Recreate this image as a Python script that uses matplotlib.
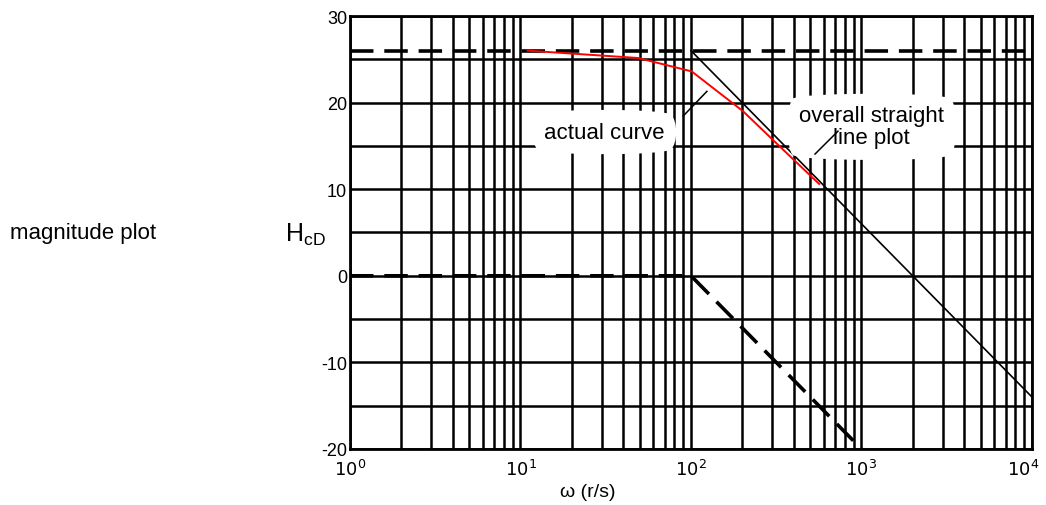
import matplotlib.pyplot as plt
from matplotlib.ticker import FixedLocator, LogLocator, NullFormatter
from matplotlib.transforms import ScaledTranslation

plt.rcParams['font.family'] = ['Liberation Sans', 'DejaVu Sans']
plt.rcParams['axes.unicode_minus'] = False

# asymptotes (dB)
w_flat = [1, 1e4]
h_flat = [26, 26]
w_low = [1, 100, 1000]
h_low = [0, 0, -20]
w_overall = [100, 1e4]
h_overall = [26, -14]

# actual curve (red)
w_actual = [11, 49, 101, 202, 333, 565]
h_actual = [26, 25.15, 23.6, 19.0, 14.9, 10.6]

# pointer lines for the notes
ptr_actual_w = [90, 124]
ptr_actual_h = [18.45, 21.3]
ptr_overall_w = [534, 728]
ptr_overall_h = [14.06, 16.7]

y_ticks = [-20, -10, 0, 10, 20, 30]
x_ticks = [1, 10, 100, 1000, 10000]
x_labels = ['$10^0$', '$10^1$', '$10^2$', '$10^3$', '$10^4$']

fig = plt.figure(figsize=(10.46, 5.06), dpi=100)
ax = fig.add_axes([0.3346, 0.1107, 0.652, 0.8557])

ax.set_xscale('log')
ax.set_xlim(1, 1e4)
ax.set_ylim(-20, 30)

ax.xaxis.set_major_locator(FixedLocator(x_ticks))
ax.xaxis.set_minor_locator(LogLocator(base=10, subs=range(2, 10)))
ax.xaxis.set_minor_formatter(NullFormatter())
ax.set_xticklabels(x_labels)
ax.set_yticks(y_ticks)
ax.yaxis.set_minor_locator(FixedLocator([-15, -5, 5, 15, 25]))

ax.grid(True, which='both', color='black', lw=1.8)
ax.set_axisbelow(True)
for s in ax.spines.values():
    s.set_linewidth(2)
ax.tick_params(which='both', length=0, labelsize=13)
ax.tick_params(axis='x', pad=7)
ax.tick_params(axis='y', pad=2)

# nudge the last x label so it stays inside the picture
last = ax.get_xticklabels()[-1]
last.set_transform(last.get_transform() + ScaledTranslation(-6 / 72, 0, fig.dpi_scale_trans))

ax.plot(w_flat, h_flat, color='black', lw=2.6, ls=(0, (6.5, 3)), zorder=4)
ax.plot(w_low, h_low, color='black', lw=2.6, ls=(0, (6.5, 3)), zorder=4)
ax.plot(w_overall, h_overall, color='black', lw=1.2, zorder=4)
ax.plot(w_actual, h_actual, color='red', lw=1.4, zorder=5)

box = dict(boxstyle='round4,pad=0.6', fc='white', ec='none')
ax.text(31, 16.6, 'actual curve', ha='center', va='center', fontsize=16,
        bbox=box, zorder=6)
ax.text(1150, 17.2, 'overall straight\nline plot', ha='center', va='center',
        fontsize=16, bbox=box, zorder=6, linespacing=1.05)
ax.plot(ptr_actual_w, ptr_actual_h, color='black', lw=1.1, zorder=7)
ax.plot(ptr_overall_w, ptr_overall_h, color='black', lw=1.1, zorder=7)

fig.text(588 / 1046, 1 - 493 / 506, 'ω (r/s)', ha='center',
         va='center', fontsize=14)
fig.text(10 / 1046, 1 - 233 / 506, 'magnitude plot', ha='left',
         va='center', fontsize=16)
fig.text(285 / 1046, 1 - 235 / 506, 'H$_{\\mathregular{cD}}$', ha='left',
         va='center', fontsize=18)

plt.savefig('out.png', dpi=100)
